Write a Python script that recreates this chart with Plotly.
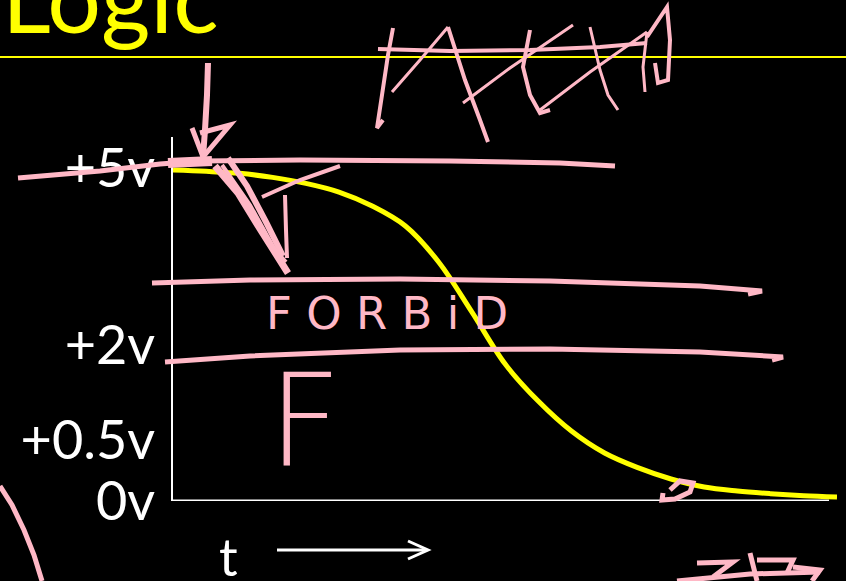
import plotly.graph_objects as go

# Output voltage of the falling transition, sampled every half time unit
time_units = [0, 0.5, 1, 1.5, 2, 2.5, 3, 3.5, 4, 4.5, 5, 5.5, 6, 6.5, 7, 7.5, 8, 8.5, 9, 9.5, 10]
volts = [4.97, 4.95, 4.92, 4.86, 4.77, 4.64, 4.43, 4.13, 3.59, 2.84, 2.06, 1.50, 1.05, 0.72,
         0.50, 0.33, 0.21, 0.15, 0.11, 0.08, 0.06]

# Voltage axis labels and where they sit on the level axis
tick_text = ["0v", "+0.5v", "+2v", "+5v"]
tick_pos = [0.0, 0.92, 2.34, 5.0]

Y_TOP = 5.466
X_END = 10
AXIS_END = 9.88

YELLOW = "#FFFF00"
PINK = "#FFB8C6"
WHITE = "#FFFFFF"

# Figure geometry in pixels (plot area spans 173..837 horizontally, 137..501 vertically)
L, R, T, B = 173, 837, 137, 501


def to_paper(x, y):
    return (x - L) / (R - L), (B - y) / (B - T)


def ink_path(pts):
    out = []
    for i, (x, y) in enumerate(pts):
        px, py = to_paper(x, y)
        out.append(("M" if i == 0 else "L") + f"{px:.5f},{py:.5f}")
    return " ".join(out)


# Hand-drawn pen strokes (figure pixels), with pen width
ink_strokes = [
    # threshold lines
    ([(18, 178), (100, 171), (160, 164), (200, 161), (300, 160), (450, 161), (560, 163), (615, 166)], 5),
    ([(168, 163), (212, 161)], 10),
    ([(152, 283), (250, 280), (400, 279), (550, 281), (700, 286), (762, 291), (748, 294)], 5),
    ([(165, 362), (250, 356), (400, 350), (550, 349), (700, 352), (783, 357), (772, 360)], 5),
    # downward arrow at +5v
    ([(208, 63), (207, 95), (205, 130), (203, 157)], 6),
    ([(192, 128), (203, 157), (230, 125), (200, 133)], 5),
    # slanted arrow below +5v
    ([(215, 166), (238, 193), (262, 232), (288, 273)], 7),
    ([(228, 158), (247, 186), (266, 222), (283, 256)], 6),
    ([(222, 165), (250, 205), (275, 250), (286, 262)], 4),
    ([(285, 195), (286, 230), (287, 258)], 4),
    ([(262, 197), (300, 180), (340, 166)], 4),
    # scribble along the top rule
    ([(393, 28), (388, 55), (382, 95), (377, 128), (383, 120)], 4),
    ([(378, 49), (450, 51), (530, 50), (600, 47), (647, 43)], 4),
    ([(392, 92), (420, 60), (448, 27)], 3),
    ([(448, 27), (465, 80), (480, 120), (488, 142)], 4),
    ([(463, 103), (510, 68), (573, 25)], 3),
    ([(530, 30), (523, 67), (530, 95), (540, 113), (550, 110)], 4),
    ([(540, 110), (590, 72), (647, 32)], 3),
    ([(590, 27), (600, 70), (608, 95), (618, 110)], 3),
    ([(647, 32), (643, 67), (645, 92)], 3),
    ([(647, 37), (667, 7), (670, 40), (668, 80), (658, 83), (655, 63)], 4),
    # small loop on the tail of the curve
    ([(670, 490), (680, 481), (693, 483), (690, 492), (675, 499), (662, 500), (663, 493)], 5),
    # corner marks
    ([(0, 486), (12, 505), (24, 530), (34, 555), (42, 581)], 5),
    ([(697, 563), (733, 562), (713, 577)], 5),
    ([(677, 581), (750, 574), (820, 572)], 5),
    ([(750, 553), (757, 581)], 5),
    ([(757, 560), (793, 560), (787, 573)], 5),
    ([(793, 567), (820, 570), (812, 581)], 5),
]

fig = go.Figure()

fig.add_trace(go.Scatter(
    x=time_units, y=volts, mode="lines",
    line=dict(color=YELLOW, width=5, shape="spline", smoothing=1.0),
    hoverinfo="skip", showlegend=False,
))

shapes = [
    # rule under the title
    dict(type="line", xref="paper", yref="paper",
         x0=to_paper(0, 57)[0], x1=to_paper(846, 57)[0],
         y0=to_paper(0, 57)[1], y1=to_paper(0, 57)[1],
         line=dict(color=YELLOW, width=2), layer="above"),
    # time axis
    dict(type="line", xref="x", yref="y", x0=0, x1=AXIS_END, y0=0, y1=0,
         line=dict(color=WHITE, width=3), layer="below"),
    # time arrow
    dict(type="path", xref="paper", yref="paper",
         path=ink_path([(277, 550), (427, 550)]),
         line=dict(color=WHITE, width=3)),
    dict(type="path", xref="paper", yref="paper",
         path=ink_path([(408, 541), (428, 550), (408, 559)]),
         line=dict(color=WHITE, width=3)),
]
for pts, w in ink_strokes:
    shapes.append(dict(type="path", xref="paper", yref="paper", path=ink_path(pts),
                       line=dict(color=PINK, width=w), layer="above"))

annotations = [
    dict(text="Logic", xref="paper", yref="paper",
         x=to_paper(0, 0)[0], y=to_paper(0, -4)[1], xanchor="left", yanchor="middle",
         showarrow=False, font=dict(family="Lato", size=95, color=YELLOW)),
    dict(text="t", xref="paper", yref="paper",
         x=to_paper(228, 0)[0], y=to_paper(0, 556)[1], xanchor="center", yanchor="middle",
         showarrow=False, font=dict(family="Lato", size=52, color=WHITE)),
    dict(text="F O R B i D", xref="paper", yref="paper",
         x=to_paper(264, 0)[0], y=to_paper(0, 313)[1], xanchor="left", yanchor="middle",
         showarrow=False, font=dict(family="DejaVu Sans", size=45, color=PINK)),
    dict(text="F", xref="paper", yref="paper",
         x=to_paper(266, 0)[0], y=to_paper(0, 420)[1], xanchor="left", yanchor="middle",
         showarrow=False, font=dict(family="DejaVu Sans", size=128, color=PINK, weight=200)),
]

fig.update_layout(
    width=846, height=581,
    margin=dict(l=L, r=846 - R, t=T, b=581 - B, pad=0),
    paper_bgcolor="black", plot_bgcolor="black",
    showlegend=False,
    shapes=shapes,
    annotations=annotations,
    xaxis=dict(range=[0, X_END], visible=False, fixedrange=True),
    yaxis=dict(range=[0, Y_TOP], showgrid=False, zeroline=False,
               showline=True, linecolor=WHITE, linewidth=2,
               tickmode="array", tickvals=tick_pos, ticktext=tick_text,
               ticks="", ticklabelstandoff=5,
               tickfont=dict(family="Lato", size=54, color=WHITE),
               fixedrange=True),
)

fig.write_html("out.html")
